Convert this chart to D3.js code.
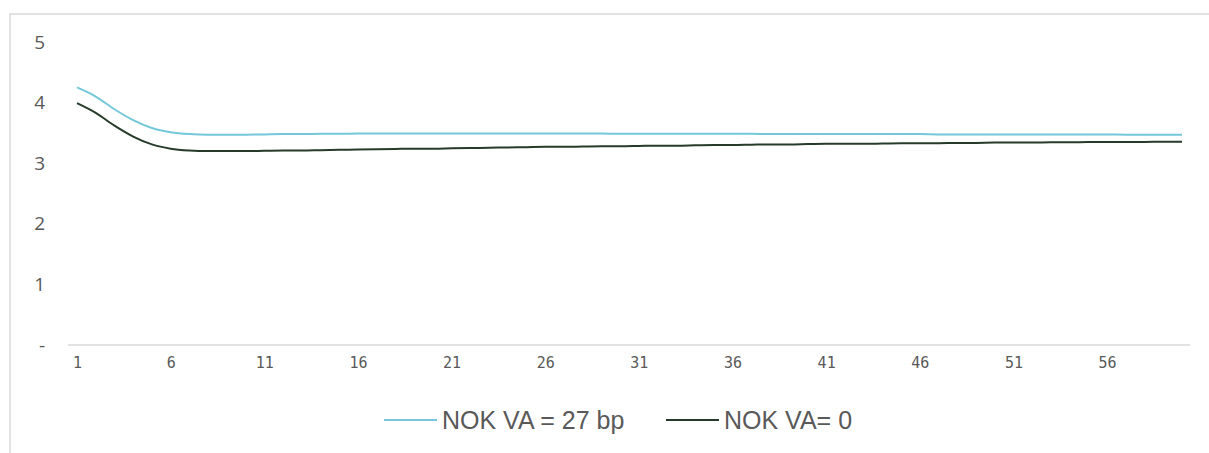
<!DOCTYPE html>
<html>
<head>
<meta charset="utf-8">
<script src="https://cdn.jsdelivr.net/npm/d3@7"></script>
<style>
  html, body { margin: 0; padding: 0; background: #fff; }
  svg { display: block; }
</style>
</head>
<body>
<svg width="1209" height="453"></svg>
<script>
// Horizon labels 1..60 (only every 5th is printed on the axis).
const categories = d3.range(1, 61).map(String);
const xTickLabels = ['1', '6', '11', '16', '21', '26', '31', '36', '41', '46', '51', '56'];
const yTickValues = [0, 1, 2, 3, 4, 5];

// Series.
const nokVa27 = [
  4.25, 4.10, 3.89, 3.71, 3.58, 3.51, 3.48, 3.47, 3.47, 3.47,
  3.475, 3.48, 3.48, 3.485, 3.485, 3.49, 3.49, 3.49, 3.49, 3.49,
  3.49, 3.49, 3.49, 3.49, 3.49, 3.49, 3.49, 3.49, 3.49, 3.485,
  3.485, 3.485, 3.485, 3.485, 3.485, 3.485, 3.485, 3.48, 3.48, 3.48,
  3.48, 3.48, 3.48, 3.48, 3.48, 3.48, 3.475, 3.475, 3.475, 3.475,
  3.475, 3.475, 3.475, 3.475, 3.475, 3.475, 3.47, 3.47, 3.47, 3.47,
];
const nokVa0 = [
  3.99, 3.83, 3.62, 3.44, 3.31, 3.24, 3.21, 3.20, 3.20, 3.20,
  3.205, 3.21, 3.21, 3.215, 3.22, 3.225, 3.23, 3.235, 3.24, 3.24,
  3.245, 3.25, 3.255, 3.26, 3.265, 3.27, 3.27, 3.275, 3.28, 3.28,
  3.285, 3.29, 3.29, 3.295, 3.30, 3.30, 3.305, 3.31, 3.31, 3.315,
  3.32, 3.32, 3.32, 3.325, 3.33, 3.33, 3.33, 3.335, 3.335, 3.34,
  3.34, 3.34, 3.345, 3.345, 3.35, 3.35, 3.35, 3.35, 3.355, 3.355,
];

const SERIES = [
  {name: 'NOK VA = 27 bp', values: nokVa27, color: '#74c8d9'},
  {name: 'NOK VA= 0', values: nokVa0, color: '#263b29'},
];

const svg = d3.select('svg');

// Chart frame (cut off at the right and bottom edges of the picture).
svg.append('path')
    .attr('d', 'M 10 453 L 10 14 L 1209 14')
    .attr('fill', 'none')
    .attr('stroke', '#d9d9d9')
    .attr('stroke-width', 1.5);

const x = d3.scalePoint()
    .domain(categories)
    .range([77, 1182]);
const y = d3.scaleLinear()
    .domain([0, 5])
    .range([345, 42]);

// Y axis: labels only, zero drawn as a dash.
const yAxis = svg.append('g')
    .attr('transform', 'translate(45,0)')
    .call(d3.axisLeft(y)
        .tickValues(yTickValues)
        .tickSize(0)
        .tickPadding(0)
        .tickFormat(d => d === 0 ? '-' : d3.format('d')(d)));
yAxis.select('.domain').remove();
yAxis.selectAll('text')
    .attr('fill', '#595959')
    .style('font-family', '"Open Sans", sans-serif')
    .style('font-size', '19px');

// X axis: category line and every 5th label.
const xAxis = svg.append('g')
    .attr('transform', 'translate(0,345)')
    .call(d3.axisBottom(x)
        .tickValues(xTickLabels)
        .tickSize(0)
        .tickPadding(12));
xAxis.select('.domain')
    .attr('d', 'M 68 0 H 1190')
    .attr('stroke', '#d9d9d9')
    .attr('stroke-width', 1.5);
xAxis.selectAll('text')
    .attr('fill', '#595959')
    .style('font-family', '"DejaVu Sans Mono", monospace')
    .style('font-size', '15px');

const line = d3.line()
    .x((d, i) => x(categories[i]))
    .y(d => y(d))
    .curve(d3.curveMonotoneX);

svg.append('g')
    .selectAll('path')
    .data(SERIES)
    .join('path')
    .attr('d', d => line(d.values))
    .attr('fill', 'none')
    .attr('stroke', d => d.color)
    .attr('stroke-width', 2);

// Legend below the plot.
const legendX = [384, 666];
const legend = svg.append('g')
    .selectAll('g')
    .data(SERIES)
    .join('g')
    .attr('transform', (d, i) => `translate(${legendX[i]},420)`);
legend.append('line')
    .attr('x1', 0)
    .attr('x2', 53)
    .attr('stroke', d => d.color)
    .attr('stroke-width', 2);
legend.append('text')
    .attr('x', 58)
    .attr('dy', '0.36em')
    .attr('fill', '#595959')
    .style('font-family', '"Liberation Sans", Arial, sans-serif')
    .style('font-size', '25px')
    .text(d => d.name);
</script>
</body>
</html>
